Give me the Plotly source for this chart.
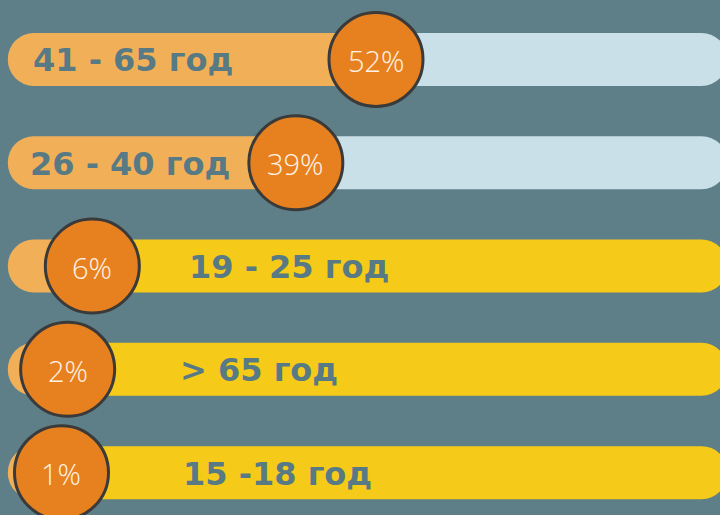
import plotly.graph_objects as go

# ---- data ----
categories = ["41 - 65 год", "26 - 40 год", "19 - 25 год", "> 65 год", "15 -18 год"]
values = [52, 39, 6, 2, 1]
value_labels = ["52%", "39%", "6%", "2%", "1%"]

# ---- styling ----
BG = "#5e7f88"
FILL = "#f1b058"
TRACK_COLORS = ["#c9e0e8", "#c9e0e8", "#f6ca18", "#f6ca18", "#f6ca18"]
CIRCLE = "#e7811f"
LABEL_COLOR = "#587a84"
TRACK_START = -7.7
TRACK_END = 109.0
LABEL_X_PX = [31, 28, 187, 178, 181]
W, H = 720, 515

idx = list(range(len(categories)))

fig = go.Figure()

# remaining part of the track (rounded at right end)
fig.add_trace(go.Bar(
    orientation="h", y=idx, base=values,
    x=[TRACK_END - v for v in values],
    width=0.513, marker=dict(color=TRACK_COLORS, line=dict(width=0), cornerradius="50%"),
    hoverinfo="skip", showlegend=False,
))
# filled part (rounded at left end)
fig.add_trace(go.Bar(
    orientation="h", y=idx, base=values,
    x=[TRACK_START - v for v in values],
    width=0.513, marker=dict(color=FILL, line=dict(width=0), cornerradius="50%"),
    hoverinfo="skip", showlegend=False,
))
# value circles
fig.add_trace(go.Scatter(
    x=values, y=idx, mode="markers",
    marker=dict(size=94, color=CIRCLE, line=dict(color="#3a3a3a", width=3)),
    hoverinfo="skip", showlegend=False, cliponaxis=False,
))

annotations = []
for i, (cat, px) in enumerate(zip(categories, LABEL_X_PX)):
    annotations.append(dict(
        x=px / W, xref="paper", y=i, yref="y", text=cat, showarrow=False,
        xanchor="left", yanchor="middle", yshift=-1,
        font=dict(family="DejaVu Sans", size=32, color=LABEL_COLOR, weight="bold"),
    ))
for i, (v, lab) in enumerate(zip(values, value_labels)):
    annotations.append(dict(
        x=v, xref="x", y=i, yref="y", text=lab, showarrow=False,
        xanchor="center", yanchor="middle", yshift=-1,
        font=dict(family="Open Sans", size=29, color="#fff3e6", weight=300),
    ))

fig.update_layout(
    width=W, height=H,
    margin=dict(l=0, r=0, t=0, b=0),
    paper_bgcolor=BG, plot_bgcolor=BG,
    barmode="overlay",
    xaxis=dict(range=[-8.97, 107.78], visible=False, fixedrange=True),
    yaxis=dict(range=[4.41, -0.575], visible=False, fixedrange=True),
    annotations=annotations,
    showlegend=False,
)

fig.write_html(
    "out.html",
    config={"displayModeBar": False},
    post_script="document.body.style.margin='0';document.body.style.overflow='hidden';document.body.style.background='" + BG + "';",
)
